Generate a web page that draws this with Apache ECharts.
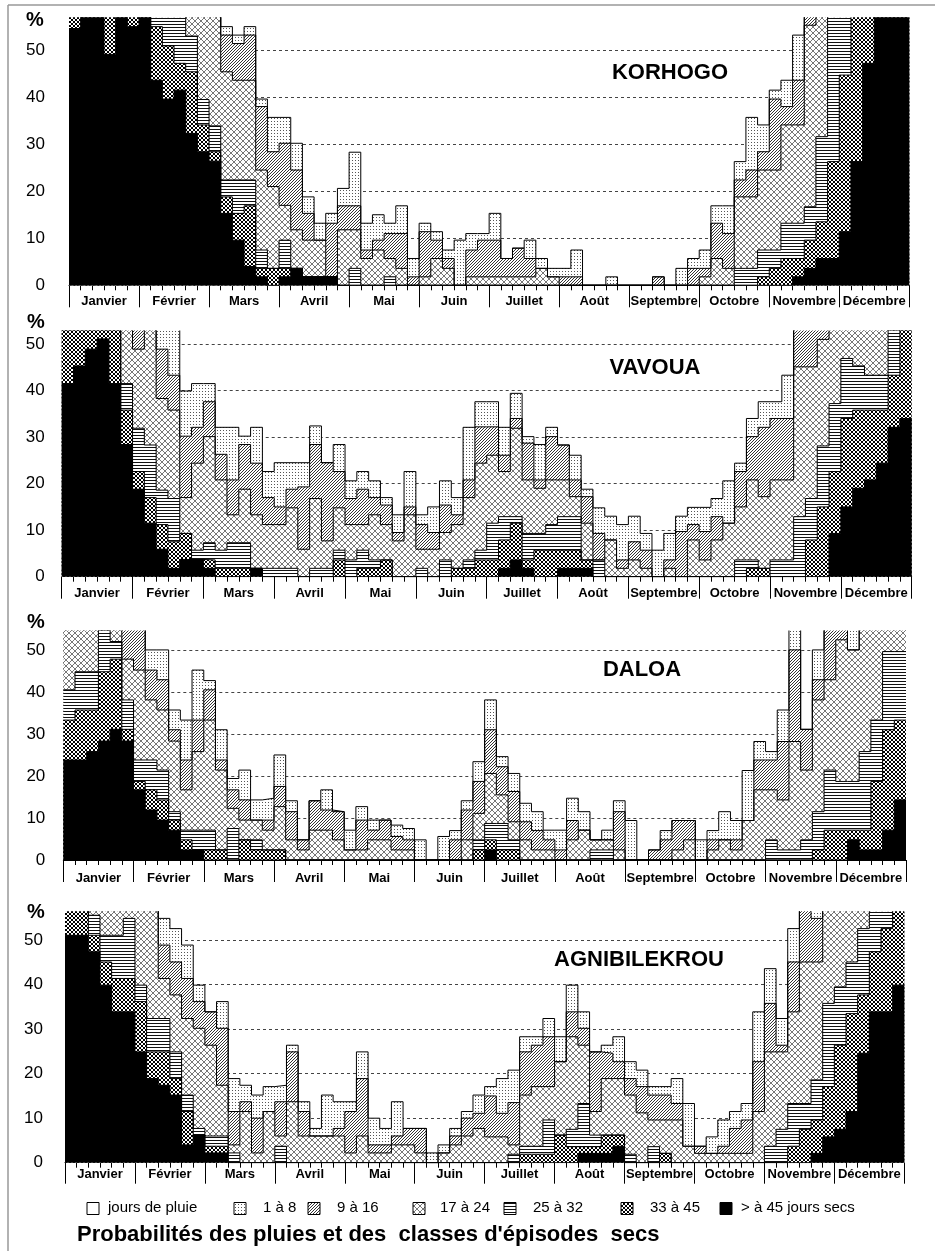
<!DOCTYPE html>
<html><head><meta charset="utf-8">
<script src="https://cdn.jsdelivr.net/npm/echarts@6/dist/echarts.min.js"></script>
<style>html,body{margin:0;padding:0;background:#fff}#c{width:935px;height:1251px}</style>
</head><body><div id="c"></div>
<script>
// ---------- categories / labels ----------
const MONTHS = ['Janvier','Février','Mars','Avril','Mai','Juin','Juillet','Août','Septembre','Octobre','Novembre','Décembre'];
const STATIONS = ['KORHOGO','VAVOUA','DALOA','AGNIBILEKROU'];
const CLASSES = ['jours de pluie','1 à 8','9 à 16','17 à 24','25 à 32','33 à 45','> à 45 jours secs'];
const TITLE = "Probabilités des pluies et des  classes d'épisodes  secs";

// ---------- data: cumulative top (%) of each class, 72 pentads; values above the frame are clipped ----------
// KORHOGO
const KOR_SUP45 = [54.6,60,60,49.1,60,55, 60,43.6,39.6,41.5,32.3,28.4, 26.4,15.3,9.6,4.0,1.8,0, 1.8,3.6,1.8,1.8,1.8,0, 0,0,0,0,0,0, 0,0,0,0,0,0, 0,0,0,0,0,0, 0,0,0,0,0,0, 0,0,0,0,0,0, 0,0,0,0,0,0, 0,0,1.8,3.6,5.7,5.7, 11.4,26.3,47.2,60,60,60];
const KOR_33_45 = [60,60,60,60,60,60, 60,55,50.9,47.2,45.4,34.1, 28.4,18.8,15.3,16.9,3.6,3.6, 3.6,3.6,1.8,1.8,1.8,0, 0,0,0,0,0,0, 0,0,0,0,0,0, 0,0,0,0,0,0, 0,0,0,0,0,0, 0,0,0,0,0,0, 0,0,0,0,0,1.8, 3.6,5.7,5.7,9.6,13.5,26.3, 44.7,60,60,60,60,60];
const KOR_25_32 = [60,60,60,60,60,60, 60,60,60,60,53,39.5, 33.9,22.4,22.4,22.4,7.5,3.6, 9.6,3.6,1.8,1.8,1.8,0, 3.6,0,0,1.8,0,0, 0,0,0,0,0,0, 0,0,0,0,0,0, 0,0,0,0,0,0, 0,0,0,0,0,0, 0,0,0,3.6,3.6,7.5, 7.5,13.2,13.2,16.7,31.6,60, 60,60,60,60,60,60];
const KOR_17_24 = [60,60,60,60,60,60, 60,60,60,60,60,60, 60,45.4,43.6,43.6,24.5,21, 17,11.8,9.6,9.6,1.8,11.8, 11.8,5.7,7.5,5.7,3.6,0, 1.8,5.7,3.6,0,1.8,1.8, 1.8,1.8,1.8,1.8,3.6,1.8, 0,0,0,0,0,0, 0,0,0,0,0,0, 1.8,5.7,3.6,18.8,18.8,24.5, 24.5,34.1,34.1,55.3,60,60, 60,60,60,60,60,60];
const KOR_9_16  = [60,60,60,60,60,60, 60,60,60,60,60,60, 60,53.2,51.4,53.2,38,28.4, 30.2,24.5,15.3,9.6,13.2,16.9, 16.9,7.5,9.6,11,11,1.8, 11.4,9.6,5.7,0,7.5,9.6, 9.6,5.7,7.9,5.7,3.6,1.8, 1.8,1.8,0,0,0,0, 0,0,1.8,0,0,3.6, 3.6,13.2,11,22.4,24.5,28.4, 39.6,38,43.6,60,60,60, 60,60,60,60,60,60];
const KOR_1_8   = [60,60,60,60,60,60, 60,60,60,60,60,60, 60,55,53.2,55,39.6,35.7, 35.7,30.2,18.8,13.2,15.3,20.6, 28.3,13.2,15,13.2,16.9,5.7, 13.2,11.4,7.5,9.6,11,11, 15.3,5.7,7.9,9.6,5.7,3.6, 3.6,7.5,0,0,1.8,0, 0,0,1.8,0,3.6,5.7, 7.5,16.9,16.9,26.3,35.7,34.1, 41.5,43.6,53.2,60,60,60, 60,60,60,60,60,60];
// VAVOUA
const VAV_SUP45 = [41.5,45.3,48.9,51.1,41.5,28.4, 18.8,11.5,5.9,1.8,3.7,3.7, 1.8,0,0,0,1.8,0, 0,0,0,0,0,0, 0,0,0,0,0,0, 0,0,0,0,0,0, 0,1.8,3.6,1.8,0,0, 1.8,1.8,1.8,0,0,0, 0,0,0,0,0,0, 0,0,0,0,0,0, 0,0,0,0,0,9.3, 15,19,20.8,24.4,32.1,34];
const VAV_33_45 = [60,60,60,60,60,35.8, 22.6,17,11.2,7.5,9.3,3.7, 3.6,1.8,1.8,1.8,1.8,0, 0,0,0,0,0,3.6, 0,1.8,1.8,3.6,0,0, 0,0,0,1.8,1.8,3.6, 3.6,7.9,11.5,3.6,5.7,5.7, 5.7,5.7,3.6,0,0,0, 0,0,0,0,0,0, 0,0,0,0,1.8,1.8, 0,0,0,7.9,15,22.6, 34,35.8,35.8,35.8,43.3,60];
const VAV_25_32 = [60,60,60,60,60,41.5, 31.9,28.3,18.6,16.8,9.3,5.7, 7.3,5.7,7.3,7.3,1.8,1.8, 1.8,1.8,0,1.8,1.8,5.7, 3.6,5.7,3.6,3.6,0,0, 1.8,0,3.6,1.8,3.6,5.7, 11.5,12.9,12.9,9.3,9.3,11.2, 12.9,12.9,3.6,3.6,0,0, 0,0,0,0,0,0, 0,0,0,3.6,3.6,1.8, 3.6,3.6,12.9,16.8,28.1,37.2, 46.9,45.3,43.3,43.3,60,60];
const VAV_17_24 = [60,60,60,60,60,60, 48.9,60,38.3,35.8,17,24.4, 30.1,20.8,13.3,18.8,13.3,11.2, 11.2,14.8,5.9,16.8,7.7,14.8, 11.2,11.2,13.3,11.2,7.7,13.3, 5.9,5.9,9.5,11.2,17,24.4, 26.1,22.6,31.9,20.8,19,20.8, 20.8,17.2,11.5,3.6,7.9,1.8, 3.6,1.8,0,1.8,0,7.9, 3.6,7.9,11.5,15,20.8,17.2, 20.8,20.8,45.1,45.1,51,60, 60,60,60,60,60,60];
const VAV_9_16  = [60,60,60,60,60,60, 60,60,48.9,43.3,30.2,32.1, 37.6,26.3,20.8,28.4,24.4,17, 15,18.8,19.3,28.4,24.5,22.6, 16.8,18.8,17,15.4,9.5,15, 11.2,9.5,15.4,13.3,20.8,32.2, 32.2,26.1,34,28.7,20.8,30.1, 28.3,20.8,17.2,9.3,7.9,3.6, 7.5,5.7,0,3.6,9.7,11.2, 9.7,12.9,11.5,22.6,30.1,32.1, 34,34,60,60,60,60, 60,60,60,60,60,60];
const VAV_1_8   = [60,60,60,60,60,60, 60,60,60,60,39.9,41.5, 41.5,32.1,32.1,30.2,32.1,22.6, 24.5,24.5,24.5,32.4,24.5,28.4, 20.6,22.6,20.6,17,13.3,22.6, 13.3,15,20.6,17,32.1,37.6, 37.6,32.1,39.4,30.1,28.4,32.1, 28.3,26.1,18.8,14.8,13,11.2, 13,9.3,5.7,9.3,13,14.9, 14.9,16.8,20.6,24.4,34,37.6, 37.6,43.3,60,60,60,60, 60,60,60,60,60,60];
// DALOA
const DAL_SUP45 = [23.8,23.8,25.8,28.3,31.1,28.3, 16.7,11.9,9.5,7.1,2.4,2.4, 0,0,0,0,0,0, 0,0,0,0,0,0, 0,0,0,0,0,0, 0,0,0,0,0,0, 2.4,0,0,0,0,0, 0,0,0,0,0,0, 0,0,0,0,0,0, 0,0,0,0,0,0, 0,0,0,0,0,0, 0,4.8,2.4,2.4,7.1,14.3];
const DAL_33_45 = [33.3,35.7,35.7,44.8,47.8,31.1, 18.7,16.7,14.3,9.5,4.8,2.4, 2.4,2.4,0,4.8,2.4,2.4, 2.4,0,0,0,0,0, 0,0,0,0,0,0, 0,0,0,0,0,2.4, 4.8,2.4,2.4,0,0,0, 0,0,0,0,0,0, 0,0,0,0,0,0, 0,0,0,0,0,0, 0,0,0,0,2.4,7.1, 7.1,7.1,7.1,18.7,31,33.3];
const DAL_25_32 = [40.5,44.8,44.8,60,52,38.1, 23.8,23.8,21.4,11.5,7.1,7.1, 7.1,2.4,7.5,4.8,4.8,2.4, 2.4,0,0,0,0,0, 0,0,0,0,0,0, 0,0,0,0,0,4.8, 8.7,8.7,4.8,0,0,0, 0,0,0,2.4,2.4,0, 0,0,0,0,0,0, 0,0,0,0,0,0, 4.8,2.4,2.4,4.8,11.5,21.4, 18.7,18.7,25.8,33.3,49.6,49.6];
const DAL_17_24 = [60,60,60,60,60,47.8, 45.2,38.1,35.7,28.3,16.7,25.8, 33.3,21.4,12.3,9.5,9.5,7.1, 12.7,4.8,2.4,7.1,7.1,4.8, 2.4,2.4,4.8,4.8,2.4,2.4, 0,0,0,0,4.8,11.1, 20.6,15.5,9.1,4.8,2.4,2.4, 0,4.8,7.1,4.8,4.8,2.4, 0,0,0,0,2.4,4.8, 0,2.4,4.8,2.4,9.4,16.7, 16.7,14.3,28.2,21.4,38.1,42.9, 52.4,50,60,60,60,60];
const DAL_9_16  = [60,60,60,60,60,60, 60,45.2,42.9,31,23.8,33.3, 40.5,23.8,16.7,14.3,9.5,9.5, 17.5,11.5,4.8,14.1,11.9,11.5, 2.4,9.5,7.1,9.5,5.6,4.8, 0,0,0,4.8,11.9,18.7, 31,22.2,16.3,9.1,7,4.8, 2.4,9.4,7.1,4.8,4.8,11.5, 0,0,2.4,4.8,9.4,9.4, 0,4.8,4.8,4.8,9.4,23.8, 23.8,28.2,50,31.1,42.9,60, 60,50,60,60,60,60];
const DAL_1_8   = [60,60,60,60,60,60, 60,50,50,35.7,33.3,45.2, 42.7,31,19.4,21.4,14.3,14.7, 25,14.1,4.8,14.1,16.7,11.5, 7.1,12.7,9.5,9.5,8.3,7.5, 4.8,0,5.6,7,14.1,23.4, 38.1,24.6,20.6,13.5,11.5,7.1, 7.1,14.7,11.5,4.8,7.1,14.1, 9.4,0,2.4,7,9.4,9.4, 4.8,7,11.5,9.4,21.3,28.2, 25.8,35.7,60,31.1,50,60, 60,60,60,60,60,60];
// AGNIBILEKROU
const AGN_SUP45 = [51.1,51.1,47.4,39.9,33.9,33.9, 24.9,18.9,17.4,15.2,4,6.2, 2.2,2.2,0,0,0,0, 0,0,0,0,0,0, 0,0,0,0,0,0, 0,0,0,0,0,0, 0,0,0,0,0,0, 0,0,2.1,2.1,2.1,3.7, 0,0,0,0,0,0, 0,0,0,0,0,0, 0,0,0,0,2.1,5.8, 7.5,11.5,24.6,33.9,33.9,39.9];
const AGN_33_45 = [60,60,51.1,45.1,41.4,41.4, 36.2,24.9,24.9,18.9,11.5,6.2, 3.7,3.7,0,0,0,0, 0,0,0,0,0,0, 0,0,0,0,0,0, 0,0,0,0,0,0, 0,0,0,1.9,1.9,1.9, 6.2,3.6,3.6,3.6,6.2,6.2, 0,0,0,2.1,0,0, 0,0,0,0,0,0, 0,0,3.7,7.5,9.6,17.1, 26.4,33.5,37.7,47.4,52.6,60];
const AGN_25_32 = [60,60,55.6,51.1,51.1,54.9, 39.9,32.4,32.4,24.9,15.2,7.7, 6,6,2.2,0,0,0, 3.7,0,0,0,0,0, 0,0,0,0,0,0, 0,0,0,0,0,0, 0,0,1.9,3.7,3.7,9.6, 6.2,7.5,13.3,6.2,6.2,6.2, 1.9,0,3.6,2.1,0,0, 0,0,0,0,0,0, 3.7,7.5,13.3,13.3,18.6,35.8, 39.5,45.1,52.6,60,60,60];
const AGN_17_24 = [60,60,60,60,60,60, 60,60,41.4,37.7,32.4,30.2, 26.4,17.4,4,11.5,2.2,11.5, 6,13.7,6,6,6,6, 2.2,6,2.2,2.2,4,4, 2.2,0,2.2,4,6,7.7, 5.8,5.8,4,15.2,17.1,17.1, 22.7,28.3,26.4,11.5,18.9,18.9, 15.2,11.2,9.6,9.6,9.6,3.7, 2.1,2.1,2.1,2.1,2.1,11.5, 24.9,24.9,33.9,45.1,45.1,60, 60,60,60,60,60,60];
const AGN_9_16  = [60,60,60,60,60,60, 60,60,48.9,45.1,41.4,36.2, 33.9,30.2,11.5,13.7,10,11.5, 13.7,24.9,11.5,6,6,7.7, 11.5,18.9,4,4,6,7.7, 7.7,0,2.2,6,10,11.1, 15,11.1,13.5,24.9,26.4,28.3, 22.7,33.9,30.2,24.9,24.6,22.7, 18.9,17.1,15.2,15.2,13.3,3.7, 3.7,2.1,3.7,7.7,9.6,22.7, 35.8,26.4,45.1,60,54.9,60, 60,60,60,60,60,60];
const AGN_1_8   = [60,60,60,60,60,60, 60,60,54.9,52.6,48.9,39.9, 33.9,36.2,18.9,17.4,15.2,17.1, 17.4,26.4,13.7,7.7,15.2,13.7, 13.7,24.9,10,7.7,13.7,7.7, 7.7,2.2,4,7.7,11.5,15.2, 17.1,18.9,20.8,28.3,28.3,32.4, 28.3,39.9,33.9,24.9,26.4,28.3, 22.7,20.8,17.1,17.1,18.9,13.3, 3.7,5.8,9.6,11.5,13.3,33.9, 43.6,32.4,52.6,60,60,60, 60,60,60,60,60,60];

// drawing order: from the highest cumulative class down to the black one
const PANEL_BANDS = [
  [KOR_1_8, KOR_9_16, KOR_17_24, KOR_25_32, KOR_33_45, KOR_SUP45],
  [VAV_1_8, VAV_9_16, VAV_17_24, VAV_25_32, VAV_33_45, VAV_SUP45],
  [DAL_1_8, DAL_9_16, DAL_17_24, DAL_25_32, DAL_33_45, DAL_SUP45],
  [AGN_1_8, AGN_9_16, AGN_17_24, AGN_25_32, AGN_33_45, AGN_SUP45]
];

// ---------- layout (styling, not data) ----------
const LAYOUT = [
  {left:69,   top:17.7,  width:840.3, height:267.6, ymax:56.9, lm:24, mm:10, tl:22, pct:[35,20],  name:[670,72.5]},
  {left:61.7, top:331,   width:850,   height:245.7, ymax:52.8, lm:17, mm:10, tl:22, pct:[36,322], name:[655,368]},
  {left:63.3, top:631,   width:842.7, height:229,   ymax:54.5, lm:18, mm:12, tl:22, pct:[36,622], name:[642,670]},
  {left:65,   top:911.7, width:839.3, height:251,   ymax:56.4, lm:22, mm:5,  tl:21, pct:[36,912], name:[639,960]}
];
const FONT = '"Liberation Sans", Arial, Helvetica, sans-serif';

function pat(w, h, fg, px) {
  const c = document.createElement('canvas');
  c.width = w; c.height = h;
  const g = c.getContext('2d');
  g.fillStyle = '#fff'; g.fillRect(0, 0, w, h);
  g.fillStyle = fg;
  px.forEach(p => g.fillRect(p[0], p[1], 1, 1));
  return {image: c, repeat: 'repeat'};
}
const FILLS = [
  pat(3, 3, '#555', [[1,1]]),                                   // 1 à 8 : dots
  pat(3, 3, '#333', [[0,2],[1,1],[2,0]]),                        // 9 à 16 : diagonal
  pat(6, 6, '#777', [[0,0],[1,1],[2,2],[3,3],[4,4],[5,5],[5,0],[4,1],[3,2],[2,3],[1,4],[0,5]]), // 17 à 24
  pat(3, 3, '#111', [[0,0],[1,0],[2,0]]),                        // 25 à 32 : horizontal
  pat(4, 4, '#000', [[0,0],[1,1],[2,2],[3,3],[3,0],[2,1],[1,2],[0,3]]), // 33 à 45
  '#000'                                                          // > 45
];

const grid = [], xAxis = [], yAxis = [], series = [], graphic = [];
LAYOUT.forEach((L, pi) => {
  grid.push({left: L.left, top: L.top, width: L.width, height: L.height, containLabel: false});
  xAxis.push({
    gridIndex: pi, type: 'value', min: 0, max: 72, interval: 1, position: 'bottom',
    axisLine: {show: true, onZero: false, lineStyle: {color: '#000', width: 1}},
    axisTick: {show: true, length: 5, lineStyle: {color: '#000', width: 1}},
    axisLabel: {show: false}, splitLine: {show: false}
  });
  xAxis.push({
    gridIndex: pi, type: 'category', data: MONTHS, boundaryGap: true, position: 'bottom',
    axisLine: {show: false, onZero: false},
    axisTick: {show: true, length: L.tl, interval: 0, lineStyle: {color: '#000', width: 1}},
    axisLabel: {interval: 0, margin: L.mm, fontSize: 13, fontWeight: 'bold', color: '#000', fontFamily: FONT},
    splitLine: {show: false}
  });
  yAxis.push({
    gridIndex: pi, type: 'value', min: 0, max: L.ymax, interval: 10,
    axisLine: {show: false}, axisTick: {show: false},
    axisLabel: {fontSize: 17, color: '#000', margin: L.lm, showMaxLabel: false, fontFamily: FONT},
    splitLine: {show: true, showMinLine: false, showMaxLine: false, lineStyle: {type: [3, 3], color: '#444', width: 1}}
  });
  PANEL_BANDS[pi].forEach((arr, bi) => {
    const data = arr.map((v, i) => [i, v]);
    data.push([arr.length, arr[arr.length - 1]]);
    series.push({
      type: 'line', xAxisIndex: pi * 2, yAxisIndex: pi, data: data, step: 'end',
      symbol: 'none', showSymbol: false, silent: true, clip: true,
      lineStyle: {color: '#000', width: 1},
      areaStyle: {color: FILLS[bi], opacity: 1},
      emphasis: {disabled: true}
    });
  });
  graphic.push({type: 'text', x: L.pct[0], y: L.pct[1],
    style: {text: '%', font: 'bold 20px ' + FONT, fill: '#000', align: 'center', verticalAlign: 'middle', textAlign: 'center', textVerticalAlign: 'middle'}});
  graphic.push({type: 'text', x: L.name[0], y: L.name[1],
    style: {text: STATIONS[pi], font: 'bold 22px ' + FONT, fill: '#000', align: 'center', verticalAlign: 'middle', textAlign: 'center', textVerticalAlign: 'middle'}});
});

// legend (boxes with the same fills)
const LEG_BOX_X = [87, 234, 308, 413, 504, 621, 720];
const LEG_TXT_X = [108, 263, 337, 440, 533, 650, 741];
const LEG_FILL = ['#fff'].concat(FILLS);
CLASSES.forEach((name, i) => {
  graphic.push({type: 'rect', shape: {x: LEG_BOX_X[i], y: 1202.5, width: 12, height: 12},
    style: {fill: LEG_FILL[i], stroke: '#000', lineWidth: 1}});
  graphic.push({type: 'text', x: LEG_TXT_X[i], y: 1208,
    style: {text: name, font: '15px ' + FONT, fill: '#000', align: 'left', verticalAlign: 'middle', textAlign: 'left', textVerticalAlign: 'middle'}});
});
graphic.push({type: 'text', x: 77, y: 1235,
  style: {text: TITLE, font: 'bold 22px ' + FONT, fill: '#000', align: 'left', verticalAlign: 'middle', textAlign: 'left', textVerticalAlign: 'middle'}});
// frame
graphic.push({type: 'line', shape: {x1: 8, y1: 5, x2: 935, y2: 5}, style: {stroke: '#999', lineWidth: 1.5}});
graphic.push({type: 'line', shape: {x1: 8, y1: 5, x2: 8, y2: 1251}, style: {stroke: '#999', lineWidth: 1.5}});

const chart = echarts.init(document.getElementById('c'), null, {renderer: 'canvas', width: 935, height: 1251});
chart.setOption({
  animation: false, backgroundColor: '#fff',
  grid: grid, xAxis: xAxis, yAxis: yAxis, series: series, graphic: graphic,
  tooltip: {show: false}
});
</script></body></html>
